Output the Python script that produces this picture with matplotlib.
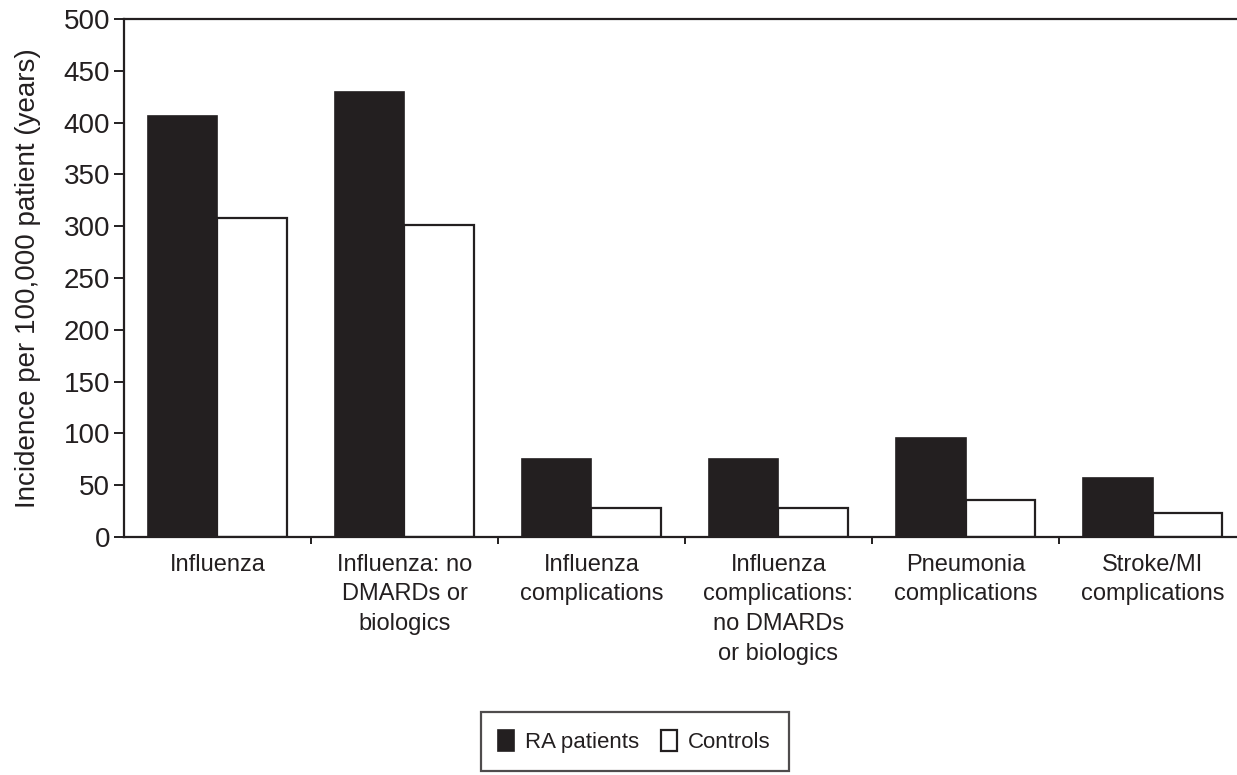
import numpy as np
import matplotlib
matplotlib.use("Agg")
import matplotlib.pyplot as plt

plt.rcParams['font.family'] = ['Liberation Sans', 'DejaVu Sans']

categories = [
    "Influenza",
    "Influenza: no\nDMARDs or\nbiologics",
    "Influenza\ncomplications",
    "Influenza\ncomplications:\nno DMARDs\nor biologics",
    "Pneumonia\ncomplications",
    "Stroke/MI\ncomplications",
]
ra_patients = [406, 430, 75, 75, 96, 57]
controls = [308, 301, 28, 28, 36, 23]
yticks = np.arange(0, 501, 50)

ink = "#231f20"

fig = plt.figure(figsize=(12.37, 7.75), dpi=100)
ax = fig.add_axes([0.1002, 0.307, 0.9071, 0.6684])

x = np.arange(len(categories)) + 0.5
w = 0.37
ax.bar(x - w / 2, ra_patients, w, color=ink, edgecolor=ink, linewidth=1.2, label="RA patients")
ax.bar(x + w / 2, controls, w, color="white", edgecolor=ink, linewidth=1.6, label="Controls")

ax.set_xlim(0, len(categories))
ax.set_ylim(0, 500)
ax.set_yticks(yticks)
ax.tick_params(axis="y", direction="out", length=7, width=1.4, labelsize=20, colors=ink, pad=3)

# category boundaries carry the ticks, labels sit at group centres
ax.set_xticks(np.arange(1, len(categories)))
ax.set_xticklabels([])
ax.set_xticks(x, minor=True)
ax.set_xticklabels(categories, minor=True, fontsize=17, color=ink, linespacing=1.45, va="top")
ax.tick_params(axis="x", which="major", direction="out", length=5, width=1.4, colors=ink)
ax.tick_params(axis="x", which="minor", length=0, pad=12)

for s in ["left", "bottom", "top"]:
    ax.spines[s].set_linewidth(1.6)
    ax.spines[s].set_color(ink)
ax.spines["right"].set_visible(False)

ax.set_ylabel("Incidence per 100,000 patient (years)", fontsize=20, color=ink, labelpad=16)

leg = fig.legend(loc="center", bbox_to_anchor=(0.513, 0.043), ncol=2, fontsize=16,
                 frameon=True, fancybox=False, edgecolor=ink, handlelength=0.7,
                 handleheight=1.1, handletextpad=0.5, columnspacing=1.0,
                 borderpad=0.8, borderaxespad=0, labelcolor=ink)
leg.get_frame().set_linewidth(1.6)

fig.savefig("out.png", dpi=100)
